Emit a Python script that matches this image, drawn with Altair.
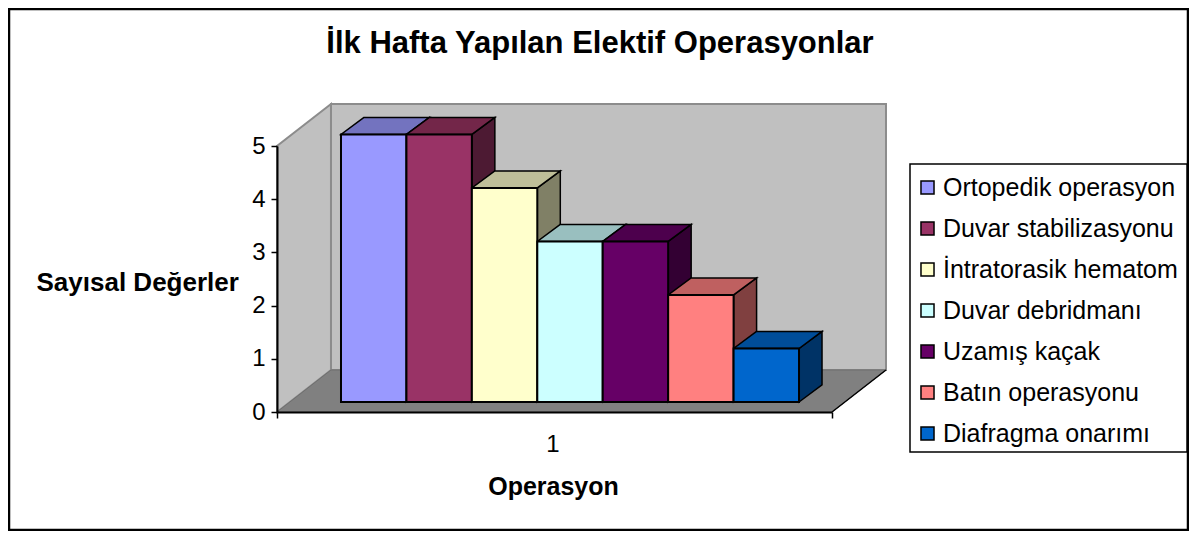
import altair as alt
import pandas as pd

title_text = "İlk Hafta Yapılan Elektif Operasyonlar"
series = ["Ortopedik operasyon", "Duvar stabilizasyonu", "İntratorasik hematom",
          "Duvar debridmanı", "Uzamış kaçak", "Batın operasyonu", "Diafragma onarımı"]
values = [5, 5, 4, 3, 3, 2, 1]
front_colors = ["#9999FF", "#993366", "#FFFFCC", "#CCFFFF", "#660066", "#FF8080", "#0066CC"]
top_colors = ["#7373BF", "#732649", "#BFBF99", "#99BFBF", "#4D004D", "#BF6060", "#004D99"]
side_colors = ["#4D4D80", "#4D1A33", "#808066", "#668080", "#330033", "#804040", "#003366"]
category_labels = ["1"]

FONT = "Liberation Sans"
W, H = 555, 266
X0, X1 = -0.978, 7.504
Y0, Y1 = 0.0, 5.0
BASE, K = 0.188, 1.006          # lift of the bars' front plane, height per value
BAR_DX, BAR_DY = 0.3515, 0.32   # bar depth
WALL_DX, WALL_DY = 0.825, 0.789 # wall depth

x_scale = alt.Scale(domain=[X0, X1], range=[0, W], nice=False, zero=False)
y_scale = alt.Scale(domain=[Y0, Y1], range=[H, 0], nice=False, zero=False)

bars = pd.DataFrame({
    "series": series, "value": values,
    "i": range(len(values)), "top": top_colors, "side": side_colors})
bars["x"] = bars["i"]
bars["x2"] = bars["i"] + 1
bars["y"] = BASE
bars["y2"] = BASE + bars["value"] * K

wall_left = pd.DataFrame({"id": [0, 0], "fill": ["#C0C0C0"] * 2,
                          "x": [X0, X0 + WALL_DX], "y": [Y0, Y0 + WALL_DY],
                          "y2": [Y1, Y1 + WALL_DY]})
wall_back = pd.DataFrame({"id": [1, 1], "fill": ["#C0C0C0"] * 2,
                          "x": [X0 + WALL_DX, X1 + WALL_DX], "y": [Y0 + WALL_DY] * 2,
                          "y2": [Y1 + WALL_DY] * 2})
floor = pd.DataFrame({"id": [2, 2], "fill": ["#808080"] * 2,
                      "y": [Y0, Y0 + WALL_DY], "x": [X0, X0 + WALL_DX],
                      "x2": [X1, X1 + WALL_DX]})
floor_edge = pd.DataFrame({"x": [X1, X1 + WALL_DX], "y": [Y0, Y0 + WALL_DY]})

side_rows, top_rows = [], []
for b in bars.itertuples():
    side_rows += [{"id": b.i, "fill": b.side, "x": b.x2, "y": b.y, "y2": b.y2},
                  {"id": b.i, "fill": b.side, "x": b.x2 + BAR_DX, "y": b.y + BAR_DY, "y2": b.y2 + BAR_DY}]
    top_rows += [{"id": b.i, "fill": b.top, "y": b.y2, "x": b.x, "x2": b.x2},
                 {"id": b.i, "fill": b.top, "y": b.y2 + BAR_DY, "x": b.x + BAR_DX, "x2": b.x2 + BAR_DX}]
sides = pd.DataFrame(side_rows)
tops = pd.DataFrame(top_rows)

x_axis = alt.Axis(
    values=[X0, X1], labels=False, grid=False, title="Operasyon", tickSize=6, tickWidth=1.5,
    tickColor="black", domainColor="black", domainWidth=2, zindex=2,
    titleFont=FONT, titleFontSize=25, titleFontWeight="bold", titleColor="black",
    titleX=276, titleY=82, titleAlign="center", titleBaseline="alphabetic")
y_axis = alt.Axis(
    values=[0, 1, 2, 3, 4, 5], format="d", grid=False, title="Sayısal Değerler", tickSize=6,
    tickWidth=1.5, tickColor="black", domainColor="black", domainWidth=2, zindex=2,
    labelFont=FONT, labelFontSize=24, labelColor="black", labelPadding=6,
    titleFont=FONT, titleFontSize=26, titleFontWeight="bold", titleColor="black",
    titleAngle=0, titleX=-241, titleY=144, titleAlign="left", titleBaseline="alphabetic")

X = alt.X("x:Q", scale=x_scale, axis=x_axis)
Y = alt.Y("y:Q", scale=y_scale, axis=y_axis, stack=None)
FILL = alt.Color("fill:N", scale=None, legend=None)


def vertical(df, stroke, sw):
    return alt.Chart(df).mark_area(orient="vertical", stroke=stroke, strokeWidth=sw, opacity=1,
                                   strokeJoin="miter").encode(
        x=X, y=Y, y2="y2:Q", color=FILL, detail="id:N")


def horizontal(df, stroke, sw):
    return alt.Chart(df).mark_area(orient="horizontal", stroke=stroke, strokeWidth=sw, opacity=1,
                                   strokeJoin="miter").encode(
        x=X, x2="x2:Q", y=Y, color=FILL, detail="id:N")


frame = alt.Chart(pd.DataFrame({"a": [0]})).mark_rect(
    fill="white", stroke="black", strokeWidth=2.5).encode(
    x=alt.value(-268), x2=alt.value(911), y=alt.value(-137), y2=alt.value(384))

legend_box = alt.Chart(pd.DataFrame({"a": [0]})).mark_rect(
    fill="white", stroke="black", strokeWidth=1.5).encode(
    x=alt.value(633), x2=alt.value(910), y=alt.value(18), y2=alt.value(306))

title_mark = alt.Chart(pd.DataFrame({"t": [title_text]})).mark_text(
    font=FONT, fontSize=31, fontWeight="bold", color="black", align="center",
    baseline="alphabetic").encode(x=alt.value(323), y=alt.value(-93), text="t:N")

category_text = alt.Chart(pd.DataFrame({"x": [3.24], "y": [-0.75], "t": category_labels})).mark_text(
    font=FONT, fontSize=24, color="black", align="center", baseline="alphabetic").encode(
    x=X, y=Y, text="t:N")

edge = alt.Chart(floor_edge).mark_line(color="black", strokeWidth=1.5).encode(x=X, y=Y)

fronts = alt.Chart(bars).mark_rect(stroke="black", strokeWidth=2, opacity=1).encode(
    x=X, x2="x2:Q", y=Y, y2="y2:Q",
    fill=alt.Fill("series:N", scale=alt.Scale(domain=series, range=front_colors),
                  legend=alt.Legend(
                      orient="none", legendX=638, legendY=29, title=None, padding=0,
                      symbolType="square", symbolSize=170, symbolStrokeColor="black",
                      symbolStrokeWidth=1.5, symbolOpacity=1,
                      labelFont=FONT, labelFontSize=25, labelColor="black", labelOffset=3,
                      rowPadding=15, labelLimit=400)),
)

chart = alt.layer(
    frame,
    legend_box,
    vertical(wall_left, "#8C8C8C", 2),
    vertical(wall_back, "#8C8C8C", 2),
    horizontal(floor, "#6E6E6E", 1),
    edge,
    vertical(sides, "black", 1.5),
    horizontal(tops, "black", 1.5),
    fronts,
    category_text,
    title_mark,
).properties(
    width=W, height=H,
    padding={"left": 269, "top": 138, "right": 357, "bottom": 119},
    autosize=alt.AutoSizeParams(type="none", contains="content"),
).configure_view(stroke=None).configure(background="white")

chart.save("out.html", embed_options={"renderer": "svg", "actions": False})
